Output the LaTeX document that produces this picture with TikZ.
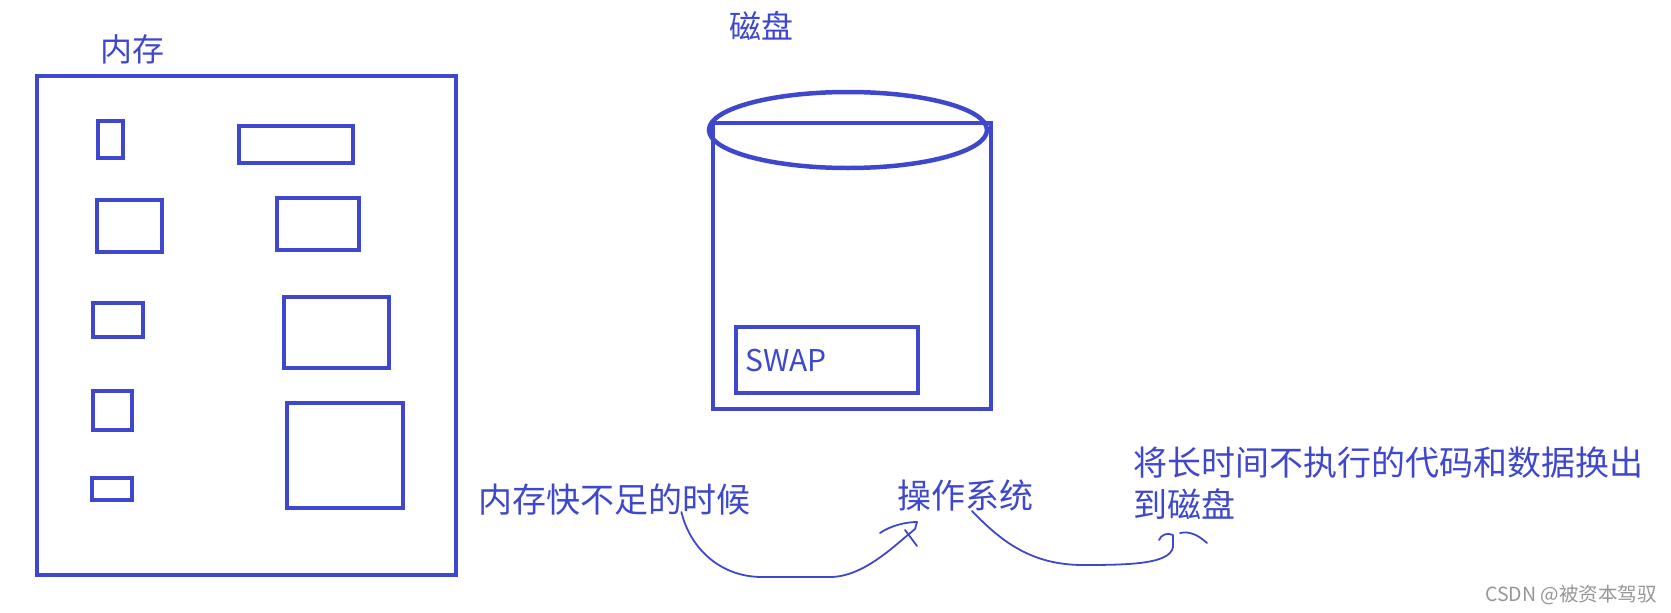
\documentclass[tikz,border=0pt]{standalone}
\usepackage{fontspec}
\newfontfamily\cjk{Noto Sans CJK SC}
\usetikzlibrary{positioning}
\definecolor{paintblue}{RGB}{63,72,204}
\definecolor{markgray}{RGB}{150,150,150}
\tikzset{
    box/.style={draw=paintblue, line width=3.5pt},
    hand/.style={draw=paintblue, line width=1.8pt, line cap=round, line join=round},
    lbl/.style={text=paintblue, inner sep=0pt, anchor=base west, font=\cjk\fontsize{34}{40}\selectfont},
}
\begin{document}
\begin{tikzpicture}[x=1pt, y=-1pt]
    \useasboundingbox (0,0) rectangle (1671,613);

    % Memory
    \node[lbl, font=\cjk\fontsize{32}{38}\selectfont] (memlbl) at (100,61) {内存};
    \draw[box] (37,76) rectangle (456,575);
    % Blocks in memory
    \draw[box] (98,121) rectangle (123,158);
    \draw[box] (239,126) rectangle (353,163);
    \draw[box] (97,200) rectangle (162,252);
    \draw[box] (277,198) rectangle (359,250);
    \draw[box] (93,303) rectangle (143,337);
    \draw[box] (284,297) rectangle (389,368);
    \draw[box] (93,391) rectangle (132,430);
    \draw[box] (287,403) rectangle (403,508);
    \draw[box] (92,478) rectangle (132,500);

    % Disk
    \node[lbl, font=\cjk\fontsize{32}{38}\selectfont] (disklbl) at (729,38) {磁盘};
    \draw[box] (713,123) -- (713,409) -- (991,409) -- (991,123) -- cycle;
    \draw[box, line width=4.5pt] (848,130) ellipse (139 and 38);
    \draw[box] (736,327) rectangle (918,393);
    \node[lbl, font=\cjk\fontsize{30}{36}\selectfont] (swap) at (745,371) {SWAP};

    % Labels below
    \node[lbl] (memlow) at (478,512) {内存快不足的时候};
    \node[lbl] (os) at (897,508) {操作系统};
    \node[lbl] (swapout) at (1133,475) {将长时间不执行的代码和数据换出};
    \node[lbl] (swapout2) at ([yshift=-42pt]swapout.base west) {到磁盘};

    % Hand drawn arrows
    \coordinate (tail1) at ([xshift=-69pt]memlow.base east);
    \coordinate (tip1) at (917,522);
    \coordinate (tail2) at ([xshift=75pt, yshift=-3pt]os.base west);
    \coordinate (tip2) at (1173,535);
    \draw[hand] (tail1) .. controls (690,548) and (720,577) .. (762,577)
        -- (830,577) .. controls (862,577) and (892,548) .. (909,534)
        -- (915,529) -- (tip1) .. controls (905,522) and (890,526) .. (880,533);
    \draw[hand] (905,530) -- (917,546);
    \draw[hand] (tail2) .. controls (1000,540) and (1030,565) .. (1083,565)
        .. controls (1130,565) and (1170,564) .. (1173,547) -- (tip2)
        .. controls (1167,532) and (1161,535) .. (1159,540);
    \draw[hand] (1180,533) .. controls (1190,531) and (1198,535) .. (1207,543);

    % Watermark
    \node[inner sep=0pt, anchor=base west, text=markgray, font=\cjk\fontsize{19.5}{24}\selectfont] (mark) at (1485,601) {CSDN @被资本驾驭};
\end{tikzpicture}
\end{document}
